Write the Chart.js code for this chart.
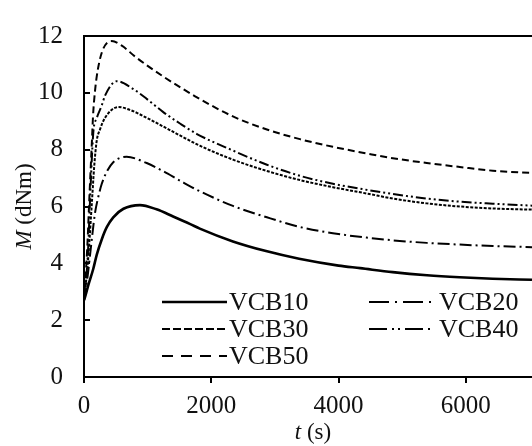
<!DOCTYPE html>
<html>
<head>
<meta charset="utf-8">
<script src="https://cdn.jsdelivr.net/npm/chart.js@4"></script>
<style>
  html, body { margin: 0; padding: 0; background: #fff; }
  canvas { display: block; }
</style>
</head>
<body>
<canvas id="chart" width="532" height="446"></canvas>
<script>
// datos (t en s, M en dNm)
const labels = ['VCB10', 'VCB20', 'VCB30', 'VCB40', 'VCB50'];

const tVCB10 = [0, 15, 70, 145, 200, 280, 360, 460, 620, 880, 1140, 1400, 1670, 1820, 2340, 2860, 3380, 4000, 4340, 4850, 5390, 5900, 6420, 7040];
const mVCB10 = [2.7, 2.8, 3.25, 3.8, 4.3, 4.85, 5.28, 5.62, 5.92, 6.05, 5.9, 5.65, 5.38, 5.22, 4.77, 4.43, 4.16, 3.92, 3.83, 3.69, 3.58, 3.51, 3.46, 3.42];

const tVCB20 = [0, 60, 110, 173, 225, 278, 357, 460, 670, 985, 1246, 1508, 1790, 2340, 2874, 3393, 3911, 4460, 4853, 5387, 5905, 6424, 7040];
const mVCB20 = [2.7, 3.6, 4.6, 5.77, 6.34, 6.79, 7.22, 7.56, 7.75, 7.53, 7.24, 6.91, 6.57, 6.02, 5.62, 5.28, 5.06, 4.9, 4.81, 4.72, 4.66, 4.61, 4.57];

const tVCB30 = [0, 60, 120, 160, 199, 251, 330, 539, 722, 985, 1241, 1508, 1820, 2340, 2874, 3393, 3911, 4460, 4853, 5387, 5905, 6424, 7040];
const mVCB30 = [2.7, 4.0, 6.0, 7.4, 8.3, 8.71, 9.12, 9.5, 9.4, 9.12, 8.82, 8.5, 8.14, 7.65, 7.25, 6.93, 6.68, 6.45, 6.28, 6.11, 6.0, 5.93, 5.89];

const tVCB40 = [0, 60, 100, 146, 199, 278, 330, 514, 770, 990, 1241, 1508, 1775, 2340, 2874, 3393, 3911, 4460, 4853, 5387, 5905, 6424, 7040];
const mVCB40 = [2.7, 4.3, 6.5, 8.6, 9.1, 9.55, 9.9, 10.41, 10.14, 9.78, 9.33, 8.92, 8.55, 7.97, 7.47, 7.08, 6.8, 6.58, 6.44, 6.28, 6.17, 6.10, 6.03];

const tVCB50 = [0, 50, 90, 126, 141, 173, 220, 298, 435, 600, 800, 1000, 1241, 1508, 1775, 2340, 2874, 3393, 3911, 4460, 4853, 5387, 5905, 6424, 7040];
const mVCB50 = [2.7, 4.5, 6.6, 8.37, 9.15, 10.07, 10.85, 11.53, 11.82, 11.65, 11.28, 10.95, 10.58, 10.2, 9.84, 9.17, 8.71, 8.37, 8.1, 7.86, 7.7, 7.53, 7.39, 7.26, 7.18];

const xTicks = [0, 2000, 4000, 6000];
const yTicks = [0, 2, 4, 6, 8, 10, 12];
const xMax = 7040;

// estilos
const FONT = 'Liberation Serif, "Times New Roman", serif';
const dashes     = [[], [12, 4, 2, 4], [3, 1.5], [10, 3, 2, 3, 2, 3], [7, 4]];
const legendDash = [[], [20, 6, 2, 6], [8, 3], [18, 5, 2, 4, 2, 5], [11, 8]];
const widths     = [2.6, 2, 2, 2, 2];

const series = [[tVCB10, mVCB10], [tVCB20, mVCB20], [tVCB30, mVCB30], [tVCB40, mVCB40], [tVCB50, mVCB50]];

const datasets = series.map(([t, m], i) => ({
  label: labels[i],
  data: t.map((v, k) => ({ x: v, y: m[k] })),
  borderColor: '#000',
  borderWidth: widths[i],
  borderDash: dashes[i],
  pointRadius: 0,
  fill: false,
  cubicInterpolationMode: 'monotone'
}));

// ticks hacia dentro, borde superior, títulos y leyenda
const decor = {
  id: 'decor',
  afterDraw(chart) {
    const { ctx, chartArea: a, scales: { y } } = chart;
    ctx.save();
    ctx.strokeStyle = '#000';
    ctx.lineWidth = 2;
    ctx.beginPath();
    ctx.moveTo(a.left - 1, a.top);
    ctx.lineTo(a.right, a.top);
    yTicks.forEach(v => {
      const py = Math.round(y.getPixelForValue(v));
      ctx.moveTo(a.left, py);
      ctx.lineTo(a.left + 6, py);
    });
    ctx.stroke();

    // títulos de ejes (M y t en cursiva)
    ctx.fillStyle = '#111';
    ctx.textBaseline = 'middle';
    const drawMixed = (parts, cx, cy) => {
      let w = 0;
      parts.forEach(p => { ctx.font = p[1] + ' 23px ' + FONT; w += ctx.measureText(p[0]).width; });
      let px = cx - w / 2;
      ctx.textAlign = 'left';
      parts.forEach(p => {
        ctx.font = p[1] + ' 23px ' + FONT;
        ctx.fillText(p[0], px, cy);
        px += ctx.measureText(p[0]).width;
      });
    };
    drawMixed([['t', 'italic'], [' (s)', 'normal']], (a.left + a.right) / 2 + 5, 433);
    ctx.save();
    ctx.translate(25, (a.top + a.bottom) / 2);
    ctx.rotate(-Math.PI / 2);
    drawMixed([['M', 'italic'], [' (dNm)', 'normal']], 0, 0);
    ctx.restore();

    // leyenda
    const cols = [[162, 227, 229], [369, 433, 439]];
    const rows = [302, 329, 356];
    const order = [[0, 0], [1, 0], [0, 1], [1, 1], [0, 2]];
    ctx.font = '26px ' + FONT;
    ctx.textAlign = 'left';
    order.forEach(([c, r], i) => {
      const [x0, x1, tx] = cols[c];
      const ly = rows[r];
      ctx.beginPath();
      ctx.setLineDash(legendDash[i]);
      ctx.lineWidth = widths[i];
      ctx.moveTo(x0, ly);
      ctx.lineTo(x1, ly);
      ctx.stroke();
      ctx.setLineDash([]);
      ctx.fillText(labels[i], tx, ly + 1);
    });
    ctx.restore();
  }
};

new Chart(document.getElementById('chart'), {
  type: 'line',
  data: { datasets },
  options: {
    responsive: false,
    animation: false,
    layout: { padding: { top: 23, right: 0, left: 0, bottom: 0 } },
    plugins: { legend: { display: false }, tooltip: { enabled: false } },
    scales: {
      x: {
        type: 'linear',
        min: 0,
        max: xMax,
        afterBuildTicks: s => { s.ticks = xTicks.map(v => ({ value: v })); },
        afterFit: s => { s.height = 69; },
        grid: { drawOnChartArea: false, drawTicks: true, tickLength: 6, color: '#000', lineWidth: 2 },
        border: { color: '#000', width: 2 },
        ticks: { color: '#111', padding: 8, maxRotation: 0, font: { family: FONT, size: 25 }, callback: v => String(v) }
      },
      y: {
        min: 0,
        max: 12,
        afterBuildTicks: s => { s.ticks = yTicks.map(v => ({ value: v })); },
        afterFit: s => { s.width = 84; },
        grid: { drawOnChartArea: false, drawTicks: false },
        border: { color: '#000', width: 2 },
        ticks: { color: '#111', padding: 21, font: { family: FONT, size: 25 }, callback: v => String(v) }
      }
    }
  },
  plugins: [decor]
});
</script>
</body>
</html>
